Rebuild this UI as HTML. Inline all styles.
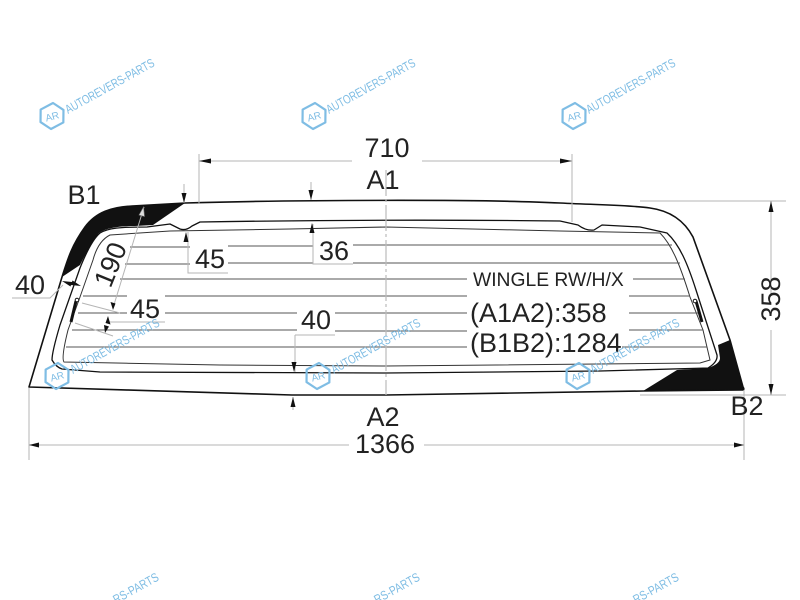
<!DOCTYPE html>
<html><head><meta charset="utf-8"><style>
html,body{margin:0;padding:0;background:#fff;width:800px;height:600px;overflow:hidden}
#f{width:800px;height:600px;overflow:hidden;position:relative}
svg{display:block;font-family:"Liberation Sans",sans-serif;filter:blur(.3px)}
.d{stroke:#b5b5b5;stroke-width:1;fill:none}
.o{stroke:#111;stroke-width:1.6;fill:none;stroke-linejoin:round}
.i{stroke:#333;stroke-width:1;fill:none}
.h{stroke:#555;stroke-width:1.1;fill:none}
.t{font-size:27px;fill:#222}
.wt{font-size:12.5px;fill:#7fbde4}
.wl{fill:none;stroke:#7fbde4;stroke-width:2.2;stroke-linejoin:round}
.wa{font-size:10px;fill:#7fbde4}
.a{fill:#111}
</style></head><body><div id="f">
<svg width="800" height="600" viewBox="0 0 800 600" xmlns="http://www.w3.org/2000/svg">
<!-- black zones -->
<path d="M62 277C68 258 72 245 85 227C96 212 112 207 132 206L185 203L153 225L135 226C118 226 106 228 99 233C93 240 85 255 80 265Z" fill="#111"/>
<path d="M730 340L743 387L743 390L643 391L677 370L708 368Q720 364 720 358L718 345Z" fill="#111"/>
<!-- outer -->
<path class="o" d="M29 387L62 277C68 258 72 245 85 227C96 212 112 207 132 206L185 203C290 200 480 199 560 203C600 205 630 205 650 208C672 211 685 222 693 237L730 340L743 387Q745 390 742 390L643 391L386 395L292 395Z"/>
<!-- band inner -->
<path class="o" style="stroke-width:1.3" d="M200 222Q386 219 560 221L578 225Q586 231 594 230L602 225L640 227L667 233C680 245 688 265 696 290L717 355Q718 362 708 368L600 371L386 373L100 372L62 369Q56 367 52 360Q52 352 60 325L80 268C88 248 94 238 100 233C108 228 120 227 147 227L170 224L180 229Q186 231 192 226L200 222Z"/>
<!-- heated area -->
<path class="i" d="M110 235L170 231L290 229L386 227L560 231L660 233C672 245 680 265 690 297L703 330L710 360L700 363L386 366L220 365L64 362Q61 358 68 330L80 297L93 260C97 245 104 238 110 235Z"/>
<!-- grid lines -->
<g class="h">
<path d="M130 247H190M228 246H313M353 245H672"/>
<path d="M125 264H190M228 263H313M353 263H680"/>
<path d="M120 279H467M633 279H685"/>
<path d="M83 296H127M165 296H467M629 296H690"/>
<path d="M78 313H127M165 313H297M335 313H467M629 313H698"/>
<path d="M72 330H297M335 331H467M629 330H703"/>
<path d="M66 347H467M622 347H707"/>
</g>
<!-- clips -->
<g fill="none" stroke="#111"><path d="M76 301L71 322" stroke-width="3"/><circle cx="77" cy="300" r="1.8" stroke-width="1" fill="#fff"/>
<path d="M696 301L702 322" stroke-width="3"/><circle cx="695" cy="301" r="1.8" stroke-width="1" fill="#fff"/></g>
<!-- dimension lines -->
<g class="d">
<path d="M199 154V204M572 154V222"/>
<path d="M199 161H352M422 161H572"/>
<path d="M29 388V460M744 390V460"/>
<path d="M29 445H349M424 445H744"/>
<path d="M640 201H786M640 395H786"/>
<path d="M771 201V295M771 330V395"/>
<path d="M311 182V200M293 397V410"/>
<path d="M184 184V203"/>
<path d="M188 232V273H228"/>
<path d="M313 224V264H353"/>
<path d="M295 335V372M295 335H335"/>
<path d="M144 207L113 308"/>
<path d="M12 298H50L63 285"/>
<path d="M82 303L120 313M75 323L113 336M107 322H165"/>
</g>
<path d="M386 170V395" stroke="#bbb" stroke-width="1.2" stroke-dasharray="26 3 3 3" fill="none"/>
<!-- arrowheads -->
<g class="a">
<path d="M199 161l12-2.500v5zM572 161l-12-2.500v5z"/>
<path d="M29 445l10-2.500v5zM744 445l-10-2.500v5z"/>
<path d="M771 201l-2.500 11h5zM771 395l-2.500-11h5z"/>
<path d="M311 200l-2.500-10h5zM293 397l-2.500 10h5z"/>
<path d="M184 203l-2.500-10h5zM186 232l-2.500 10h5z"/>
<path d="M312 223l-2.500 10h5zM294 372l-2.500-10h5z"/>
<path d="M143.500 207l-4.500 8 5.500 1.500z" fill="#ddd" stroke="#777" stroke-width=".6"/>
<path d="M113 310l-2.500-8 5 1.500z"/>
<path d="M108 316l-2.500 7 5 1.500zM105 333l-1-8 5 1.500z"/>
<path d="M62 281l10 1-1.500 4.500zM81 286l-10-1 1.500-4.500z"/>
</g>
<!-- labels -->
<g class="t">
<text x="387" y="157" text-anchor="middle">710</text>
<text x="383" y="189" text-anchor="middle">A1</text>
<text x="84" y="204" text-anchor="middle">B1</text>
<text x="383" y="426" text-anchor="middle">A2</text>
<text x="747" y="415" text-anchor="middle">B2</text>
<text x="385" y="453" text-anchor="middle">1366</text>
<text x="30" y="294" text-anchor="middle">40</text>
<text x="210" y="268" text-anchor="middle">45</text>
<text x="334" y="260" text-anchor="middle">36</text>
<text x="145" y="318" text-anchor="middle">45</text>
<text x="316" y="329" text-anchor="middle">40</text>
<text transform="translate(119 268) rotate(-68)" text-anchor="middle">190</text>
<text transform="translate(780 299) rotate(-90)" text-anchor="middle">358</text>
<text x="470" y="322">(A1A2):358</text>
<text x="470" y="352">(B1B2):1284</text>
</g>
<text x="473" y="286" style="font-size:19.300px;fill:#222">WINGLE RW/H/X</text>
<!-- watermarks -->
<g transform="translate(52 116)"><path class="wl" d="M-7-11L7-11L13 0L7 11L-7 11L-13 0Z" transform="rotate(-28)"/><text x="0" y="4" text-anchor="middle" class="wa" transform="rotate(-15)">AR</text></g>
<text class="wt" transform="translate(68 114) rotate(-29)" textLength="100" lengthAdjust="spacingAndGlyphs">AUTOREVERS-PARTS</text>
<g transform="translate(314 116)"><path class="wl" d="M-7-11L7-11L13 0L7 11L-7 11L-13 0Z" transform="rotate(-28)"/><text x="0" y="4" text-anchor="middle" class="wa" transform="rotate(-15)">AR</text></g>
<text class="wt" transform="translate(329 114) rotate(-29)" textLength="100" lengthAdjust="spacingAndGlyphs">AUTOREVERS-PARTS</text>
<g transform="translate(574 116)"><path class="wl" d="M-7-11L7-11L13 0L7 11L-7 11L-13 0Z" transform="rotate(-28)"/><text x="0" y="4" text-anchor="middle" class="wa" transform="rotate(-15)">AR</text></g>
<text class="wt" transform="translate(589 114) rotate(-29)" textLength="100" lengthAdjust="spacingAndGlyphs">AUTOREVERS-PARTS</text>
<g transform="translate(57 376)"><path class="wl" d="M-7-11L7-11L13 0L7 11L-7 11L-13 0Z" transform="rotate(-28)"/><text x="0" y="4" text-anchor="middle" class="wa" transform="rotate(-15)">AR</text></g>
<text class="wt" transform="translate(73 374) rotate(-29)" textLength="100" lengthAdjust="spacingAndGlyphs">AUTOREVERS-PARTS</text>
<g transform="translate(318 376)"><path class="wl" d="M-7-11L7-11L13 0L7 11L-7 11L-13 0Z" transform="rotate(-28)"/><text x="0" y="4" text-anchor="middle" class="wa" transform="rotate(-15)">AR</text></g>
<text class="wt" transform="translate(334 374) rotate(-29)" textLength="100" lengthAdjust="spacingAndGlyphs">AUTOREVERS-PARTS</text>
<g transform="translate(578 376)"><path class="wl" d="M-7-11L7-11L13 0L7 11L-7 11L-13 0Z" transform="rotate(-28)"/><text x="0" y="4" text-anchor="middle" class="wa" transform="rotate(-15)">AR</text></g>
<text class="wt" transform="translate(593 374) rotate(-29)" textLength="100" lengthAdjust="spacingAndGlyphs">AUTOREVERS-PARTS</text>
<text class="wt" transform="translate(116 604) rotate(-29)" textLength="50" lengthAdjust="spacingAndGlyphs">RS-PARTS</text>
<text class="wt" transform="translate(377 604) rotate(-29)" textLength="50" lengthAdjust="spacingAndGlyphs">RS-PARTS</text>
<text class="wt" transform="translate(636 604) rotate(-29)" textLength="50" lengthAdjust="spacingAndGlyphs">RS-PARTS</text>
</svg>
</div></body></html>
